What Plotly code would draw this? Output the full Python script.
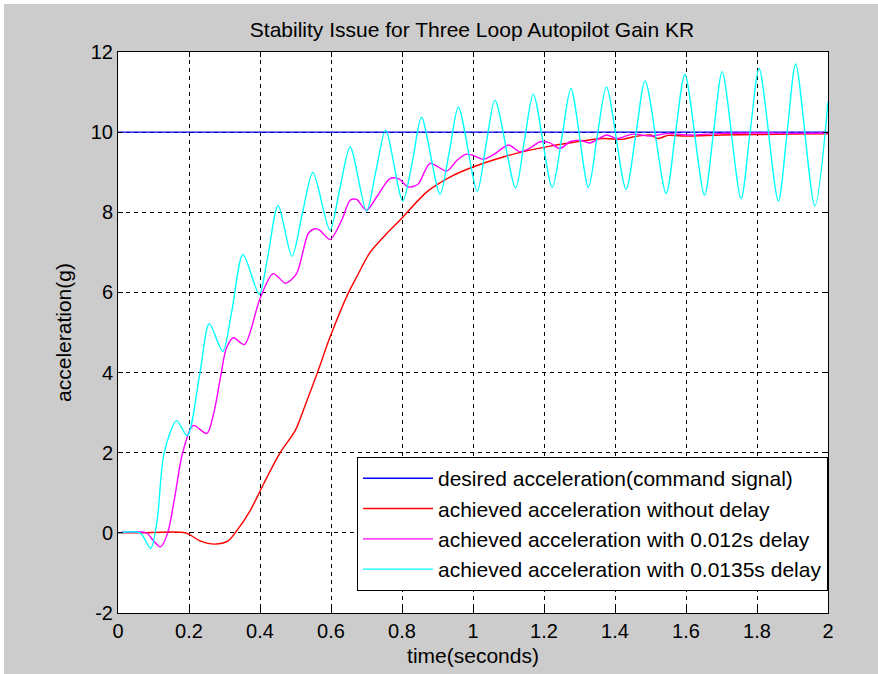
import plotly.graph_objects as go

# ---------------- data ----------------
t_desired = [0.0, 2.0]
a_desired = [10.0, 10.0]

t_nodelay = [0, 0.06, 0.19, 0.231, 0.273, 0.31, 0.33, 0.372, 0.41, 0.456, 0.499, 0.53, 0.561,
             0.597, 0.649, 0.672, 0.71, 0.757, 0.794, 0.87, 0.935, 1.0, 1.085, 1.16,
             1.217, 1.292, 1.367, 1.42, 1.45, 1.5, 1.52, 1.55, 1.6, 1.7, 1.8, 1.9, 2.0]
a_nodelay = [0, 0, 0, -0.2, -0.28, -0.2, 0.0, 0.55, 1.22, 1.99, 2.55, 3.25, 3.98,
             4.88, 5.99, 6.38, 7.0, 7.47, 7.8, 8.51, 8.88, 9.13, 9.38, 9.55,
             9.65, 9.76, 9.84, 9.82, 9.88, 9.93, 9.84, 9.92, 9.9, 9.93, 9.94, 9.95, 9.96]

t_delay012 = [0, 0.08, 0.1, 0.12, 0.14, 0.16, 0.182, 0.212, 0.25, 0.27, 0.291, 0.305, 0.325,
              0.356, 0.4, 0.437, 0.472, 0.503, 0.536, 0.555, 0.569, 0.597, 0.63, 0.654,
              0.672, 0.70, 0.73, 0.766, 0.79, 0.818, 0.845, 0.879, 0.926, 0.955, 0.982,
              1.0, 1.029, 1.06, 1.1, 1.132, 1.16, 1.189, 1.215, 1.245, 1.273, 1.30,
              1.33, 1.377, 1.405, 1.45, 1.5, 1.55, 1.6, 1.7, 1.8, 1.9, 2.0]
a_delay012 = [0, 0, -0.2, -0.35, 0.0, 0.9, 2.0, 2.68, 2.48, 3.0, 4.0, 4.6, 4.87,
              4.7, 5.85, 6.47, 6.23, 6.47, 7.47, 7.59, 7.55, 7.32, 7.8, 8.3,
              8.32, 8.05, 8.4, 8.84, 8.84, 8.63, 8.7, 9.22, 9.03, 9.3, 9.45,
              9.42, 9.32, 9.45, 9.68, 9.51, 9.6, 9.76, 9.74, 9.59, 9.76, 9.8,
              9.73, 9.93, 9.84, 9.95, 9.9, 9.97, 9.93, 9.97, 9.98, 9.97, 9.98]

t_delay0135 = [0, 0.062, 0.092, 0.11, 0.13, 0.165, 0.195, 0.231, 0.257, 0.295, 0.32, 0.352,
               0.398, 0.42, 0.451, 0.49, 0.52, 0.549, 0.597, 0.625, 0.654, 0.70, 0.727,
               0.754, 0.802, 0.83, 0.855, 0.907, 0.933, 0.959, 1.012, 1.037, 1.062, 1.12,
               1.145, 1.17, 1.223, 1.25, 1.276, 1.325, 1.35, 1.376, 1.431, 1.458, 1.485,
               1.544, 1.57, 1.597, 1.652, 1.677, 1.702, 1.755, 1.78, 1.806, 1.86, 1.885,
               1.909, 1.963, 2.0]
a_delay0135 = [0, 0, -0.39, 0.3, 2.0, 2.8, 2.42, 4.0, 5.22, 4.53, 5.5, 6.95,
               5.95, 6.8, 8.17, 6.9, 8.0, 9.0, 7.55, 8.6, 9.63, 8.03, 9.05,
               10.05, 8.28, 9.3, 10.37, 8.45, 9.5, 10.62, 8.53, 9.7, 10.8, 8.61,
               9.8, 10.95, 8.62, 9.85, 11.09, 8.62, 9.9, 11.13, 8.57, 9.9, 11.28,
               8.47, 9.95, 11.44, 8.43, 9.95, 11.51, 8.34, 9.95, 11.59, 8.28, 10.0,
               11.7, 8.16, 10.76]

names = ["desired acceleration(command signal)",
         "achieved acceleration without delay",
         "achieved acceleration with 0.012s delay",
         "achieved acceleration with 0.0135s delay"]
colors = ["#0000ff", "#ff0000", "#ff00ff", "#00ffff"]

x_ticks = [0, 0.2, 0.4, 0.6, 0.8, 1, 1.2, 1.4, 1.6, 1.8, 2]
x_labels = ["0", "0.2", "0.4", "0.6", "0.8", "1", "1.2", "1.4", "1.6", "1.8", "2"]
y_ticks = [-2, 0, 2, 4, 6, 8, 10, 12]
y_labels = ["-2", "0", "2", "4", "6", "8", "10", "12"]

FONT = "Liberation Sans, Arial, sans-serif"
FS_TICK = 20
FS = 21

fig = go.Figure()
series = [(t_desired, a_desired, "linear"),
          (t_nodelay, a_nodelay, "spline"),
          (t_delay012, a_delay012, "spline"),
          (t_delay0135, a_delay0135, "spline")]
for i, (tx, ay, shape) in enumerate(series):
    fig.add_trace(go.Scatter(
        x=tx, y=ay, mode="lines", name=names[i], legendgroup=f"g{i}",
        line=dict(color=colors[i], width=1.4, shape=shape, smoothing=0.8),
    ))

axis_common = dict(
    showline=True, linecolor="black", linewidth=1, mirror="ticks",
    ticks="inside", ticklen=5, tickcolor="black", automargin=False,
    showgrid=True, gridcolor="black", gridwidth=1, griddash="4px,4px",
    zeroline=False, tickfont=dict(family=FONT, size=FS_TICK, color="black"),
)

fig.update_xaxes(range=[0, 2], tickvals=x_ticks, ticktext=x_labels,
                 title=dict(text="time(seconds)", font=dict(family=FONT, size=FS, color="black"), standoff=7),
                 **axis_common)
fig.update_yaxes(range=[-2, 12], tickvals=y_ticks, ticktext=y_labels,
                 title=dict(text="acceleration(g)", font=dict(family=FONT, size=FS, color="black"), standoff=13),
                 **axis_common)

# thin white frame at the very top / left of the picture
fig.add_shape(type="rect", xref="paper", yref="paper",
              x0=-118 / 710, x1=(4 - 118) / 710, y0=(613 - 680) / 561, y1=(613 + 5) / 561,
              fillcolor="white", line=dict(width=0), layer="below")
fig.add_shape(type="rect", xref="paper", yref="paper",
              x0=-118 / 710, x1=(880 - 118) / 710, y0=(613 - 4) / 561, y1=(613 + 5) / 561,
              fillcolor="white", line=dict(width=0), layer="below")

fig.update_layout(
    width=878, height=674,
    margin=dict(l=118, r=50, t=52, b=61, autoexpand=False),
    paper_bgcolor="#cccccc", plot_bgcolor="white",
    title=dict(text="Stability Issue for Three Loop Autopilot Gain KR",
               x=(472) / 878, xanchor="center", y=1 - 30 / 674, yanchor="middle",
               font=dict(family=FONT, size=FS, color="black")),
    legend=dict(x=1.0, xanchor="right", y=0.039, yanchor="bottom",
                bgcolor="white", bordercolor="black", borderwidth=1,
                font=dict(family=FONT, size=FS, color="black"),
                itemwidth=70, tracegroupgap=4, traceorder="normal"),
    showlegend=True,
)

fig.write_html("out.html")
